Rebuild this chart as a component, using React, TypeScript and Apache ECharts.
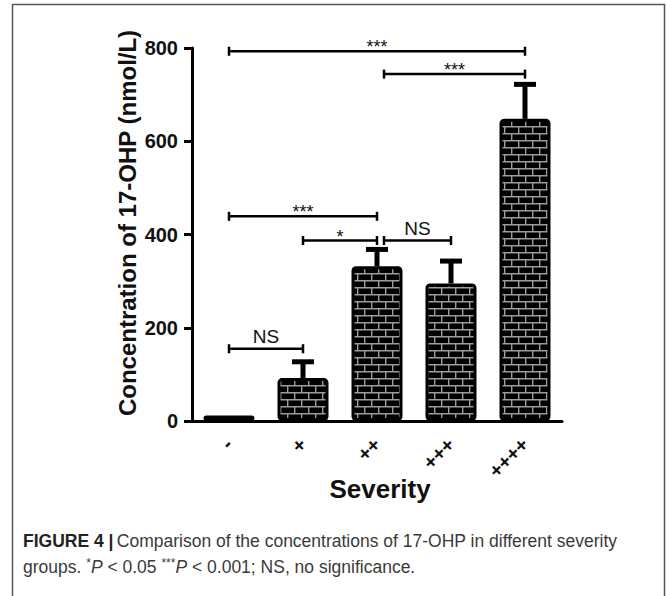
import React, { useEffect, useRef } from "react";
import * as echarts from "echarts";

const categories = ["-", "+", "++", "+++", "++++"];
const means = [12, 92, 332, 295, 648];
const upperErrors = [12, 127, 368, 343, 722];
const yTicks = [0, 200, 400, 600, 800];

const compFrom = [0, 2, 0, 1, 2, 0];
const compTo = [4, 4, 2, 2, 3, 1];
const compY = [793, 744, 439, 387, 387, 155];
const compLabel = ["***", "***", "***", "*", "NS", "NS"];

const FONT = "'Liberation Sans', Arial, Helvetica, sans-serif";

function makeBrick(): HTMLCanvasElement {
  const c = document.createElement("canvas");
  c.width = 14;
  c.height = 14;
  const g = c.getContext("2d")!;
  g.fillStyle = "#000";
  g.fillRect(0, 0, 14, 14);
  g.strokeStyle = "#9c9c9c";
  g.lineWidth = 1.4;
  g.beginPath();
  g.moveTo(0, 0.7); g.lineTo(14, 0.7);
  g.moveTo(0, 7.7); g.lineTo(14, 7.7);
  g.moveTo(0.7, 0); g.lineTo(0.7, 7);
  g.moveTo(7.7, 7); g.lineTo(7.7, 14);
  g.stroke();
  return c;
}

export default function App() {
  const ref = useRef<HTMLDivElement>(null);
  useEffect(() => {
    if (!ref.current) return;
    const chart = echarts.init(ref.current, null, { renderer: "svg" });
    const brick = makeBrick();

    const bracketData = compFrom.map((f, i) => [f, compTo[i], compY[i], i]);

    const option: any = {
      animation: false,
      textStyle: { fontFamily: FONT },
      grid: { left: 192, right: 105, top: 48, bottom: 175, containLabel: false },
      xAxis: {
        type: "category",
        data: categories,
        axisLine: { lineStyle: { color: "#000", width: 3 } },
        axisTick: { alignWithLabel: true, length: 9, lineStyle: { color: "#000", width: 3 } },
        axisLabel: {
          rotate: 45,
          margin: 20,
          color: "#111",
          fontSize: 20,
          fontWeight: "bold",
          fontFamily: FONT,
        },
      },
      yAxis: {
        type: "value",
        min: yTicks[0],
        max: yTicks[yTicks.length - 1],
        interval: yTicks[1] - yTicks[0],
        axisLine: { show: true, lineStyle: { color: "#000", width: 3 } },
        axisTick: { show: true, length: 8, lineStyle: { color: "#000", width: 3 } },
        splitLine: { show: false },
        axisLabel: {
          margin: 14,
          color: "#111",
          fontSize: 20,
          fontWeight: "bold",
          fontFamily: FONT,
        },
      },
      series: [
        {
          type: "custom",
          z: 1,
          data: means.map((m, i) => [i, m, upperErrors[i]]),
          encode: { x: 0, y: [1, 2] },
          renderItem: (params: any, api: any) => {
            const x = api.value(0);
            const p0 = api.coord([x, api.value(1)]);
            const p1 = api.coord([x, api.value(2)]);
            if (p0[1] - p1[1] < 1) return { type: "group", children: [] };
            return {
              type: "group",
              children: [
                { type: "line", shape: { x1: p0[0], y1: p0[1], x2: p1[0], y2: p1[1] }, style: { stroke: "#000", lineWidth: 5 } },
                { type: "line", shape: { x1: p1[0] - 11, y1: p1[1], x2: p1[0] + 11, y2: p1[1] }, style: { stroke: "#000", lineWidth: 5 } },
              ],
            };
          },
        },
        {
          type: "bar",
          z: 2,
          data: means,
          barWidth: 51,
          itemStyle: {
            color: { image: brick, repeat: "repeat", imageWidth: 14, imageHeight: 14 },
            borderColor: "#000",
            borderWidth: 3,
            borderRadius: 3,
          },
        },
        {
          type: "custom",
          z: 3,
          clip: false,
          data: bracketData,
          encode: { x: [0, 1], y: 2 },
          renderItem: (params: any, api: any) => {
            const f = api.value(0);
            const t = api.value(1);
            const y = api.value(2);
            const i = params.dataIndex;
            const shared = compTo.some((tt, j) => j !== i && tt === f);
            const a = api.coord([f, y]);
            const b = api.coord([t, y]);
            const x1 = a[0] + (shared && f > 1 ? 7 : 0);
            const x2 = b[0];
            const yy = a[1];
            const lbl = compLabel[i];
            const isStar = lbl.indexOf("*") >= 0;
            return {
              type: "group",
              children: [
                { type: "line", shape: { x1, y1: yy, x2, y2: yy }, style: { stroke: "#000", lineWidth: 2.5 } },
                { type: "line", shape: { x1, y1: yy - 4.5, x2: x1, y2: yy + 4.5 }, style: { stroke: "#000", lineWidth: 2.5 } },
                { type: "line", shape: { x1: x2, y1: yy - 4.5, x2, y2: yy + 4.5 }, style: { stroke: "#000", lineWidth: 2.5 } },
                {
                  type: "text",
                  x: (x1 + x2) / 2,
                  y: isStar ? yy - 4 : yy - 12,
                  style: {
                    text: lbl,
                    align: "center",
                    verticalAlign: "middle",
                    fontSize: isStar ? 18 : 19,
                    fontFamily: FONT,
                    fill: "#111",
                  },
                },
              ],
            };
          },
        },
      ],
      graphic: [
        {
          type: "rect",
          shape: { x: 12.5, y: 4.5, width: 652, height: 620 },
          style: { fill: "none", stroke: "#555", lineWidth: 1.5 },
          silent: true,
        },
        {
          type: "text",
          x: 127,
          y: 223,
          rotation: Math.PI / 2,
          style: {
            text: "Concentration of 17-OHP (nmol/L)",
            align: "center",
            verticalAlign: "middle",
            fontSize: 24,
            fontWeight: "bold",
            fontFamily: FONT,
            fill: "#111",
          },
        },
        {
          type: "text",
          x: 380,
          y: 489,
          style: {
            text: "Severity",
            align: "center",
            verticalAlign: "middle",
            fontSize: 26,
            fontWeight: "bold",
            fontFamily: FONT,
            fill: "#111",
          },
        },
        {
          type: "text",
          x: 23,
          y: 541,
          style: {
            text: "{b|FIGURE 4 |} {a|Comparison of the concentrations of 17-OHP in different severity}",
            verticalAlign: "middle",
            rich: {
              b: { fontSize: 17.5, fontWeight: "bold", fontFamily: FONT, fill: "#222" },
              a: { fontSize: 17.5, fontFamily: FONT, fill: "#3a3a3a" },
            },
          },
        },
        {
          type: "text",
          x: 23,
          y: 567,
          style: {
            text: "{a|groups. }{s|*}{i|P}{a| < 0.05 }{s|***}{i|P}{a| < 0.001; NS, no significance.}",
            verticalAlign: "middle",
            rich: {
              a: { fontSize: 17.5, fontFamily: FONT, fill: "#3a3a3a" },
              i: { fontSize: 17.5, fontStyle: "italic", fontFamily: FONT, fill: "#3a3a3a" },
              s: { fontSize: 12, fontFamily: FONT, fill: "#3a3a3a", padding: [0, 0, 8, 0] },
            },
          },
        },
      ],
    };
    chart.setOption(option);
    return () => chart.dispose();
  }, []);
  return (
    <div
      ref={ref}
      style={{ position: "fixed", left: 0, top: 0, width: 667, height: 596, background: "#fff" }}
    />
  );
}
